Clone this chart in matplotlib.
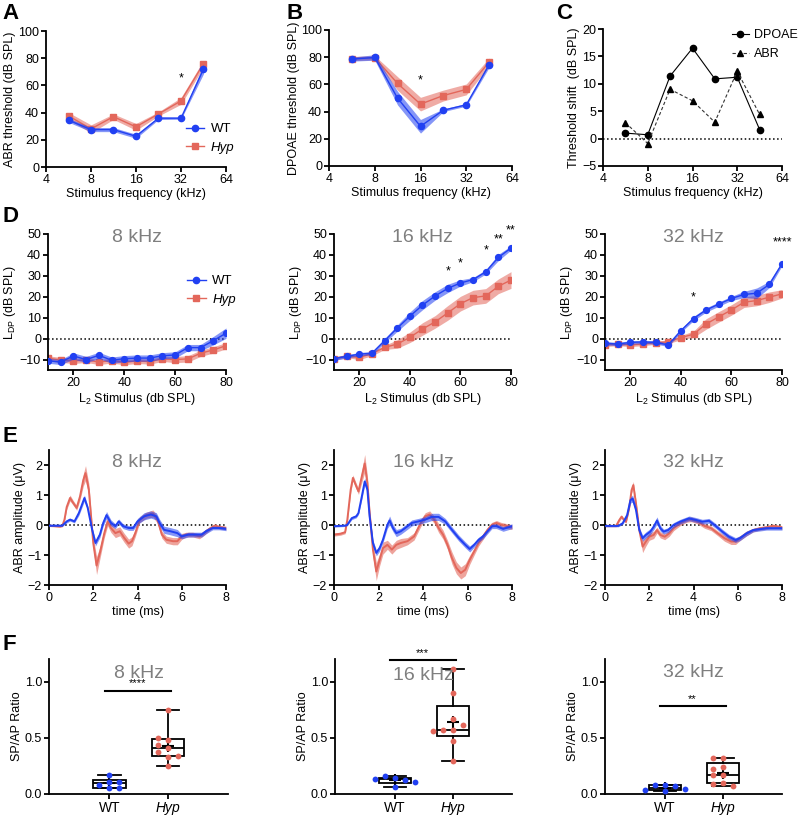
import numpy as np
import matplotlib
matplotlib.use('Agg')
import matplotlib.pyplot as plt

plt.rcParams.update({
    'font.family': ['Liberation Sans', 'DejaVu Sans'],
    'font.size': 9,
    'axes.labelsize': 9,
    'axes.labelpad': 1.5,
    'mathtext.fontset': 'custom',
    'mathtext.rm': 'Liberation Sans',
    'mathtext.it': 'Liberation Sans:italic',
    'axes.linewidth': 1.3,
})

BLUE = '#2140f2'
RED = '#e3675b'
GREY = '#7f7f7f'

# ---------------- data ----------------
freqs = [5.66, 8, 11.3, 16, 22.6, 32, 45.25]
freq_ticks = [4, 8, 16, 32, 64]

abr_wt = [34.4, 27.5, 27.5, 22.6, 35.9, 35.9, 72.0]
abr_wt_sem = [1.5, 1.5, 1.5, 1.5, 1.0, 0.8, 3.5]
abr_hyp = [37.6, 28.0, 37.0, 29.5, 39.0, 48.6, 76.0]
abr_hyp_sem = [2.5, 3.0, 2.0, 2.5, 1.5, 2.5, 2.5]

dp_wt = [78.6, 79.8, 49.9, 29.2, 41.0, 45.0, 74.5]
dp_wt_sem = [1.5, 2.0, 5.0, 5.0, 1.0, 1.0, 2.0]
dp_hyp = [79.0, 79.6, 60.7, 45.5, 51.8, 56.3, 76.4]
dp_hyp_sem = [1.5, 1.5, 5.0, 5.0, 4.0, 4.0, 3.0]

shift_dpoae = [1.0, 0.7, 11.4, 16.5, 10.9, 11.2, 1.65]
shift_abr = [2.9, -0.9, 9.0, 6.9, 3.0, 12.3, 4.4]

l2 = [10, 15, 20, 25, 30, 35, 40, 45, 50, 55, 60, 65, 70, 75, 80]
ldp8_wt = [-10.6, -11.2, -8.3, -10.0, -8.0, -10.3, -9.6, -9.3, -9.3, -8.2, -7.8, -4.3, -4.3, -1.0, 2.6]
ldp8_wt_sem = [1.2, 1.2, 1.5, 1.5, 1.5, 1.5, 1.5, 1.5, 1.5, 1.5, 1.5, 1.5, 1.5, 2.0, 2.5]
ldp8_hyp = [-9.4, -10.2, -10.7, -10.2, -11.2, -10.5, -11.3, -10.7, -11.0, -9.7, -10.0, -9.7, -7.0, -5.4, -3.4]
ldp8_hyp_sem = [1.2, 1.2, 1.2, 1.2, 1.2, 1.2, 1.2, 1.2, 1.2, 1.2, 1.5, 1.5, 1.5, 1.5, 1.5]

ldp16_wt = [-9.6, -8.5, -7.4, -7.0, -1.0, 5.0, 10.7, 16.0, 20.4, 24.0, 26.6, 28.2, 31.9, 38.8, 43.3]
ldp16_wt_sem = [0.8, 0.8, 0.8, 0.8, 1.0, 1.5, 2.0, 2.2, 2.0, 2.0, 1.5, 1.0, 1.0, 1.5, 1.0]
ldp16_hyp = [-9.6, -8.3, -9.0, -7.2, -4.2, -2.6, 0.6, 4.6, 8.0, 12.3, 16.7, 19.6, 20.4, 25.0, 28.0]
ldp16_hyp_sem = [0.8, 0.8, 1.0, 1.0, 1.0, 2.0, 2.5, 3.0, 3.0, 3.5, 3.5, 3.5, 3.5, 3.5, 4.0]

ldp32_wt = [-2.2, -2.6, -1.8, -1.6, -1.8, -3.0, 3.8, 9.6, 13.7, 16.5, 19.2, 21.1, 21.7, 25.9, 35.8]
ldp32_wt_sem = [0.8, 0.8, 0.8, 0.8, 0.8, 0.8, 0.8, 1.0, 1.0, 1.0, 1.0, 1.5, 2.5, 1.5, 1.0]
ldp32_hyp = [-3.0, -2.6, -3.0, -2.6, -1.9, -1.6, 0.5, 2.1, 7.0, 10.4, 13.7, 17.4, 18.2, 19.8, 21.4]
ldp32_hyp_sem = [0.8, 0.8, 0.8, 0.8, 0.8, 0.8, 1.0, 1.5, 2.5, 2.5, 2.5, 2.5, 2.5, 2.5, 2.0]

# ABR waveforms
w8_hyp_t = [0, 0.5, 0.6, 0.7, 0.8, 0.95, 1.1, 1.25, 1.4, 1.55, 1.65, 1.8, 1.9, 2.0, 2.15, 2.3, 2.5, 2.65, 2.8, 3.0, 3.2, 3.4, 3.6, 3.75, 3.9, 4.1, 4.4, 4.7, 4.9, 5.1, 5.3, 5.6, 5.8, 6.0, 6.2, 6.5, 6.8, 7.0, 7.3, 7.5, 7.7, 8.0]
w8_hyp_v = [-0.02, -0.05, -0.03, 0.18, 0.6, 0.9, 0.73, 0.57, 0.95, 1.5, 1.73, 1.18, 0.3, -0.6, -1.35, -0.93, -0.27, 0.12, -0.1, -0.27, -0.21, -0.43, -0.62, -0.54, -0.27, 0.18, 0.33, 0.38, 0.18, -0.32, -0.49, -0.54, -0.54, -0.38, -0.32, -0.32, -0.38, -0.27, -0.1, -0.02, -0.07, -0.1]
w8_hyp_s = [0.03, 0.03, 0.03, 0.05, 0.08, 0.1, 0.08, 0.08, 0.12, 0.2, 0.25, 0.2, 0.15, 0.2, 0.3, 0.2, 0.15, 0.15, 0.15, 0.15, 0.15, 0.15, 0.15, 0.15, 0.12, 0.1, 0.1, 0.12, 0.12, 0.12, 0.12, 0.12, 0.12, 0.1, 0.08, 0.08, 0.08, 0.08, 0.06, 0.06, 0.06, 0.06]
w8_wt_t = [0, 0.6, 0.8, 0.95, 1.15, 1.35, 1.6, 1.75, 1.95, 2.1, 2.3, 2.45, 2.6, 2.8, 3.0, 3.15, 3.35, 3.6, 3.8, 4.0, 4.3, 4.6, 4.85, 5.0, 5.2, 5.5, 5.8, 6.0, 6.3, 6.6, 6.9, 7.1, 7.4, 7.7, 8.0]
w8_wt_v = [-0.02, -0.02, 0.12, 0.18, 0.12, 0.4, 0.9, 0.57, -0.16, -0.6, -0.32, 0.07, 0.33, 0.07, -0.04, 0.12, -0.04, -0.1, -0.1, 0.12, 0.29, 0.35, 0.29, 0.07, -0.16, -0.21, -0.27, -0.38, -0.32, -0.32, -0.32, -0.21, -0.1, -0.1, -0.13]
w8_wt_s = [0.03, 0.03, 0.05, 0.05, 0.05, 0.08, 0.1, 0.08, 0.08, 0.1, 0.1, 0.1, 0.12, 0.1, 0.08, 0.08, 0.08, 0.08, 0.08, 0.1, 0.12, 0.12, 0.12, 0.12, 0.12, 0.12, 0.12, 0.08, 0.08, 0.08, 0.08, 0.08, 0.06, 0.06, 0.06]

w16_hyp_t = [0, 0.3, 0.5, 0.6, 0.75, 0.85, 1.0, 1.1, 1.25, 1.38, 1.5, 1.6, 1.75, 1.9, 2.05, 2.2, 2.4, 2.6, 2.8, 3.0, 3.3, 3.6, 3.9, 4.1, 4.3, 4.5, 4.7, 4.9, 5.1, 5.3, 5.5, 5.7, 5.9, 6.1, 6.3, 6.5, 6.7, 6.9, 7.1, 7.3, 7.5, 7.8, 8.0]
w16_hyp_v = [-0.32, -0.29, -0.24, 0.18, 1.18, 1.57, 1.29, 1.12, 1.62, 2.05, 1.4, 0.4, -0.82, -1.55, -1.16, -0.77, -0.66, -0.82, -0.66, -0.6, -0.54, -0.38, 0.07, 0.29, 0.35, 0.18, -0.1, -0.32, -0.66, -1.1, -1.43, -1.6, -1.49, -1.16, -0.88, -0.6, -0.38, -0.16, 0.01, 0.07, 0.01, -0.04, -0.07]
w16_hyp_s = [0.05, 0.05, 0.05, 0.08, 0.1, 0.1, 0.1, 0.1, 0.2, 0.3, 0.25, 0.2, 0.25, 0.3, 0.2, 0.2, 0.15, 0.15, 0.15, 0.15, 0.12, 0.12, 0.12, 0.12, 0.12, 0.12, 0.15, 0.15, 0.15, 0.2, 0.2, 0.2, 0.2, 0.15, 0.12, 0.1, 0.1, 0.08, 0.08, 0.08, 0.08, 0.08, 0.08]
w16_wt_t = [0, 0.5, 0.6, 0.8, 1.0, 1.1, 1.25, 1.38, 1.5, 1.6, 1.75, 1.9, 2.05, 2.2, 2.4, 2.5, 2.65, 2.8, 3.0, 3.2, 3.5, 3.8, 4.1, 4.4, 4.7, 5.0, 5.3, 5.6, 5.9, 6.1, 6.3, 6.5, 6.7, 6.9, 7.1, 7.3, 7.6, 8.0]
w16_wt_v = [-0.04, -0.02, 0.01, 0.23, 0.29, 0.4, 0.95, 1.45, 1.18, 0.29, -0.6, -0.93, -0.77, -0.49, 0.01, 0.15, -0.1, -0.27, -0.21, -0.1, 0.07, 0.12, 0.18, 0.27, 0.27, 0.12, -0.16, -0.43, -0.66, -0.8, -0.66, -0.49, -0.38, -0.21, -0.04, -0.04, -0.13, -0.04]
w16_wt_s = [0.03, 0.03, 0.03, 0.05, 0.05, 0.05, 0.1, 0.12, 0.1, 0.1, 0.1, 0.1, 0.1, 0.1, 0.12, 0.15, 0.12, 0.12, 0.1, 0.1, 0.1, 0.1, 0.1, 0.12, 0.12, 0.1, 0.1, 0.1, 0.1, 0.1, 0.08, 0.08, 0.08, 0.08, 0.08, 0.08, 0.08, 0.08]

w32_hyp_t = [0, 0.5, 0.65, 0.75, 0.85, 0.95, 1.1, 1.2, 1.28, 1.4, 1.55, 1.7, 1.85, 2.0, 2.2, 2.35, 2.5, 2.7, 2.9, 3.1, 3.4, 3.7, 3.9, 4.2, 4.5, 4.8, 5.1, 5.4, 5.7, 5.9, 6.1, 6.4, 6.7, 7.0, 7.3, 7.6, 8.0]
w32_hyp_v = [-0.03, -0.03, 0.17, 0.28, 0.17, 0.11, 0.6, 1.16, 1.33, 0.72, -0.17, -0.72, -0.55, -0.39, -0.33, -0.17, -0.33, -0.39, -0.28, -0.11, 0.06, 0.17, 0.19, 0.11, -0.03, -0.11, -0.28, -0.44, -0.55, -0.55, -0.44, -0.28, -0.17, -0.11, -0.08, -0.03, -0.08]
w32_hyp_s = [0.03, 0.03, 0.05, 0.05, 0.05, 0.05, 0.08, 0.1, 0.12, 0.1, 0.12, 0.2, 0.15, 0.12, 0.12, 0.1, 0.1, 0.1, 0.1, 0.08, 0.08, 0.08, 0.08, 0.08, 0.08, 0.08, 0.08, 0.1, 0.1, 0.1, 0.08, 0.08, 0.06, 0.06, 0.06, 0.06, 0.06]
w32_wt_t = [0, 0.6, 0.8, 1.0, 1.15, 1.25, 1.4, 1.55, 1.7, 1.85, 2.05, 2.2, 2.35, 2.5, 2.65, 2.85, 3.1, 3.4, 3.8, 4.1, 4.4, 4.7, 5.0, 5.3, 5.6, 5.9, 6.1, 6.4, 6.7, 7.0, 7.3, 7.6, 8.0]
w32_wt_v = [-0.03, -0.03, 0.06, 0.33, 0.83, 0.88, 0.5, -0.17, -0.44, -0.33, -0.22, -0.06, 0.15, -0.11, -0.22, -0.17, 0.0, 0.11, 0.22, 0.17, 0.11, 0.14, -0.03, -0.22, -0.39, -0.5, -0.44, -0.28, -0.17, -0.14, -0.11, -0.11, -0.11]
w32_wt_s = [0.03, 0.03, 0.04, 0.06, 0.1, 0.12, 0.1, 0.1, 0.1, 0.1, 0.1, 0.1, 0.12, 0.1, 0.08, 0.08, 0.08, 0.08, 0.08, 0.08, 0.08, 0.08, 0.08, 0.08, 0.08, 0.08, 0.08, 0.08, 0.06, 0.06, 0.06, 0.06, 0.06]

# SP/AP ratios
spap8_wt = [0.17, 0.11, 0.08, 0.11, 0.05, 0.05]
spap8_hyp = [0.75, 0.48, 0.50, 0.41, 0.44, 0.33, 0.37, 0.34, 0.25]
spap16_wt = [0.142, 0.157, 0.127, 0.133, 0.104, 0.062]
spap16_hyp = [1.11, 0.90, 0.67, 0.565, 0.565, 0.61, 0.56, 0.47, 0.29]
spap32_wt = [0.083, 0.083, 0.068, 0.038, 0.044, 0.027]
spap32_hyp = [0.32, 0.32, 0.24, 0.22, 0.17, 0.165, 0.10, 0.09, 0.07]
groups = ['WT', 'Hyp']

# ---------------- layout helpers ----------------
W, H = 800, 816
fig = plt.figure(figsize=(8, 8.16), dpi=100)


def add_ax(l, r, t, b):
    return fig.add_axes([l / W, 1 - b / H, (r - l) / W, (b - t) / H])


def style(ax):
    for s in ['top', 'right']:
        ax.spines[s].set_visible(False)
    ax.tick_params(direction='out', width=1.3, length=3.5, labelsize=9, pad=1.5)


def band_line(ax, x, y, s, color, marker, lw=1.0, ms=4.5, z=2, alpha=0.55):
    x = np.asarray(x); y = np.asarray(y); s = np.asarray(s)
    ax.fill_between(x, y - s, y + s, color=color, alpha=alpha, lw=0, zorder=z)
    ax.plot(x, y, color=color, lw=lw, marker=marker, ms=ms, zorder=z + 0.5)


def freq_axis(ax):
    ax.set_xscale('log', base=2)
    ax.set_xlim(4, 64)
    ax.set_xticks(freq_ticks)
    ax.set_xticklabels([str(f) for f in freq_ticks])
    ax.minorticks_off()
    ax.set_xlabel('Stimulus frequency (kHz)')


def panel_letter(x, y, s):
    fig.text(x / W, 1 - y / H, s, fontsize=16, fontweight='bold', va='top', ha='left')


def title_in(ax, s, yf):
    ax.text(0.5, yf, s, transform=ax.transAxes, ha='center', va='center',
            fontsize=14, color=GREY, zorder=10)


# ---------------- Panel A ----------------
axA = add_ax(46, 226, 31, 167)
style(axA)
band_line(axA, freqs, abr_hyp, abr_hyp_sem, RED, 's')
band_line(axA, freqs, abr_wt, abr_wt_sem, BLUE, 'o', z=3)
freq_axis(axA)
axA.set_ylim(0, 100)
axA.set_yticks(range(0, 101, 20))
axA.set_ylabel('ABR threshold (dB SPL)')
axA.text(32, 65, '*', ha='center', va='center', fontsize=9)
hw, = axA.plot([], [], color=BLUE, marker='o', ms=4.5, lw=1, label='WT')
hh, = axA.plot([], [], color=RED, marker='s', ms=4.5, lw=1, label='Hyp')
leg = axA.legend(handles=[hw, hh], loc='center left', bbox_to_anchor=(0.74, 0.21),
                 frameon=False, handlelength=1.4, handletextpad=0.5, borderpad=0,
                 labelspacing=0.5, fontsize=9.5)
leg.get_texts()[1].set_fontstyle('italic')

# ---------------- Panel B ----------------
axB = add_ax(329, 512, 30, 166)
style(axB)
band_line(axB, freqs, dp_hyp, dp_hyp_sem, RED, 's')
band_line(axB, freqs, dp_wt, dp_wt_sem, BLUE, 'o', z=3)
freq_axis(axB)
axB.set_ylim(0, 100)
axB.set_yticks(range(0, 101, 20))
axB.set_ylabel('DPOAE threshold (dB SPL)', labelpad=0.5)
axB.text(16, 63, '*', ha='center', va='center', fontsize=9)

# ---------------- Panel C ----------------
axC = add_ax(603, 782, 29, 166)
style(axC)
axC.axhline(0, color='k', ls=':', lw=1.1, zorder=1)
axC.plot(freqs, shift_dpoae, color='k', lw=0.8, marker='o', ms=4.5, label='DPOAE')
axC.plot(freqs, shift_abr, color='#333333', lw=0.8, ls='--', dashes=(3, 2), marker='^', ms=4.5,
         markerfacecolor='k', markeredgecolor='k', label='ABR')
freq_axis(axC)
axC.set_ylim(-5, 20)
axC.set_yticks(range(-5, 21, 5))
axC.set_ylabel('Threshold shift  (dB SPL)')
axC.legend(loc='center right', bbox_to_anchor=(798 / W, 1 - 44.5 / H), bbox_transform=fig.transFigure,
           frameon=False, handlelength=1.35, handletextpad=0.45, borderpad=0, borderaxespad=0,
           labelspacing=0.55, fontsize=9)

# ---------------- Panel D ----------------
Dcols = [(48, 226), (334, 511), (605, 782)]
Ddata = [(ldp8_wt, ldp8_wt_sem, ldp8_hyp, ldp8_hyp_sem, '8 kHz'),
         (ldp16_wt, ldp16_wt_sem, ldp16_hyp, ldp16_hyp_sem, '16 kHz'),
         (ldp32_wt, ldp32_wt_sem, ldp32_hyp, ldp32_hyp_sem, '32 kHz')]
Dstars = [[], [(55, 32, '*'), (60, 36, '*'), (70, 42, '*'), (75, 47.6, '**'), (80, 51.5, '**')],
          [(45, 19.8, '*'), (80, 46, '****')]]
axesD = []
for (l, r), (wt, wts, hy, hys, ttl), stars in zip(Dcols, Ddata, Dstars):
    ax = add_ax(l, r, 234, 370)
    style(ax)
    ax.axhline(0, color='k', ls=':', lw=1.1, zorder=1)
    band_line(ax, l2, hy, hys, RED, 's', ms=4.2)
    band_line(ax, l2, wt, wts, BLUE, 'o', ms=4.2, z=3)
    ax.set_xlim(10, 80)
    ax.set_xticks([20, 40, 60, 80])
    ax.set_ylim(-15, 50)
    ax.set_yticks(range(-10, 51, 10))
    ax.set_xlabel(r'L$_\mathregular{2}$ Stimulus (db SPL)')
    ax.set_ylabel(r'L$_\mathregular{DP}$ (dB SPL)')
    title_in(ax, ttl, 0.975)
    for sx, sy, st in stars:
        ax.text(sx, sy, st, ha='center', va='center', fontsize=9, clip_on=False)
    axesD.append(ax)
hw, = axesD[0].plot([], [], color=BLUE, marker='o', ms=4.5, lw=1, label='WT')
hh, = axesD[0].plot([], [], color=RED, marker='s', ms=4.5, lw=1, label='Hyp')
leg = axesD[0].legend(handles=[hw, hh], loc='center left', bbox_to_anchor=(0.745, 0.585),
                      frameon=False, handlelength=1.4, handletextpad=0.5, borderpad=0,
                      labelspacing=0.5, fontsize=9.5)
leg.get_texts()[1].set_fontstyle('italic')

# ---------------- Panel E ----------------
Ecols = [(49, 226), (334, 512), (605, 782)]
Edata = [(w8_hyp_t, w8_hyp_v, w8_hyp_s, w8_wt_t, w8_wt_v, w8_wt_s, '8 kHz'),
         (w16_hyp_t, w16_hyp_v, w16_hyp_s, w16_wt_t, w16_wt_v, w16_wt_s, '16 kHz'),
         (w32_hyp_t, w32_hyp_v, w32_hyp_s, w32_wt_t, w32_wt_v, w32_wt_s, '32 kHz')]
for (l, r), (ht, hv, hs, wt_, wv, ws, ttl) in zip(Ecols, Edata):
    ax = add_ax(l, r, 450, 585)
    style(ax)
    ax.axhline(0, color='k', ls=':', lw=1.1, zorder=1)
    band_line(ax, ht, hv, hs, RED, None, lw=1.4, alpha=0.6)
    band_line(ax, wt_, wv, ws, BLUE, None, lw=1.4, z=3, alpha=0.55)
    ax.set_xlim(0, 8)
    ax.set_xticks(range(0, 9, 2))
    ax.set_ylim(-2, 2.5)
    ax.set_yticks(range(-2, 3))
    ax.set_xlabel('time (ms)')
    ax.set_ylabel('ABR amplitude (\u03bcV)')
    title_in(ax, ttl, 0.905)

# ---------------- Panel F ----------------
def swarm(vals, center, step=0.17, ypx=112.5, xpx=59.0, diam=6.0):
    placed = []
    xs = []
    for v in vals:
        for k in [0, -1, 1, -2, 2, -3, 3]:
            x = center + k * step
            if all(((x - px) * xpx) ** 2 + ((v - py) * ypx) ** 2 >= diam ** 2 for px, py in placed):
                break
        placed.append((x, v))
        xs.append(x)
    return xs


def box_stats(vals):
    v = np.asarray(vals)
    q1, med, q3 = np.percentile(v, [25, 50, 75], method='weibull')
    return dict(med=med, q1=q1, q3=q3, whislo=v.min(), whishi=v.max(), mean=v.mean(), fliers=[])


Fcols = [(49, 228), (335, 512), (605, 782)]
Fdata = [(spap8_wt, spap8_hyp, '8 kHz', 0.895, 0.92, '****'),
         (spap16_wt, spap16_hyp, '16 kHz', 0.877, 1.19, '***'),
         (spap32_wt, spap32_hyp, '32 kHz', 0.9, 0.78, '**')]
for (l, r), (wt, hy, ttl, tyf, sig_y, sig_s) in zip(Fcols, Fdata):
    ax = add_ax(l, r, 659, 794)
    style(ax)
    stats = [box_stats(wt), box_stats(hy)]
    ax.bxp(stats, positions=[0, 1], widths=0.55, showmeans=True, showfliers=False,
           patch_artist=True, capwidths=0.38,
           boxprops=dict(facecolor='white', edgecolor='k', lw=1.3),
           medianprops=dict(color='k', lw=1.3),
           whiskerprops=dict(color='k', lw=1.3),
           capprops=dict(color='k', lw=1.3),
           meanprops=dict(marker='+', markeredgecolor='k', markersize=9, markeredgewidth=1.5))
    ax.plot(swarm(wt, 0), wt, 'o', color=BLUE, ms=4.2, zorder=5, mew=0)
    ax.plot(swarm(hy, 1), hy, 'o', color=RED, ms=4.2, zorder=5, mew=0)
    ax.set_xlim(-1.03, 2.02)
    ax.set_ylim(0, 1.2)
    ax.set_yticks([0.0, 0.5, 1.0])
    ax.set_yticklabels(['0.0', '0.5', '1.0'])
    ax.set_xticks([0, 1])
    ax.set_xticklabels(groups)
    ax.get_xticklabels()[1].set_fontstyle('italic')
    ax.tick_params(axis='x', labelsize=10)
    ax.set_ylabel('SP/AP Ratio')
    title_in(ax, ttl, tyf)
    ax.plot([-0.08, 1.05], [sig_y, sig_y], color='k', lw=1.5, clip_on=False, zorder=6)
    ax.text(0.48, sig_y + 0.02, sig_s, ha='center', va='bottom', fontsize=8, clip_on=False)

# panel letters
panel_letter(2, 3, 'A')
panel_letter(286, 3, 'B')
panel_letter(556, 3, 'C')
panel_letter(2, 206, 'D')
panel_letter(2, 426, 'E')
panel_letter(2, 634, 'F')

fig.savefig('out.png', dpi=100)
